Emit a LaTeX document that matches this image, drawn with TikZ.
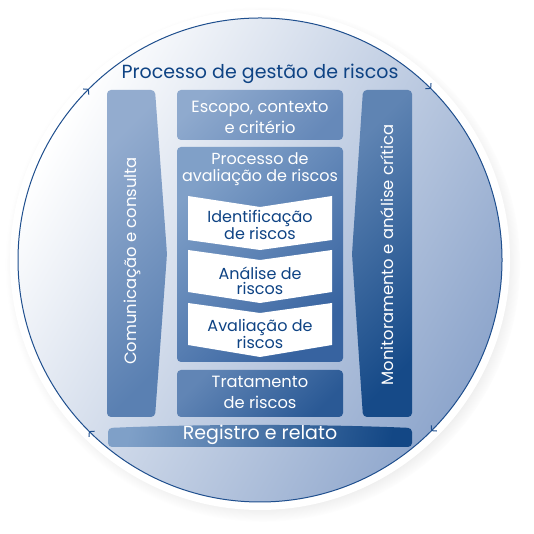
\documentclass[tikz,border=0pt]{standalone}
\usepackage{fontspec}
\setmainfont{Poppins}
\usetikzlibrary{arrows.meta,shapes,positioning,shadows,decorations.markings}

\definecolor{navy}{HTML}{0E4384}
\definecolor{ringline}{HTML}{1F4F8E}
\definecolor{discB}{HTML}{8EA6CC}
\definecolor{commA}{HTML}{93ACCF}
\definecolor{commB}{HTML}{5A80B2}
\definecolor{monA}{HTML}{5F84B3}
\definecolor{monB}{HTML}{164A88}
\definecolor{scopeA}{HTML}{8FAACE}
\definecolor{scopeB}{HTML}{6689B9}
\definecolor{assessA}{HTML}{80A0C8}
\definecolor{assessB}{HTML}{3763A0}
\definecolor{treatA}{HTML}{6185B5}
\definecolor{treatB}{HTML}{2A5995}
\definecolor{recA}{HTML}{7FA0C8}
\definecolor{recB}{HTML}{134785}

\tikzstyle{panel} = [rounded corners=4pt, shading angle=45]
\tikzstyle{boxtext} = [text=white, align=center, font=\fontsize{16.3}{21}\selectfont]
\tikzstyle{steptext} = [text=navy, align=center, font=\fontsize{16}{15.5}\selectfont]
\tikzstyle{sidetext} = [text=white, rotate=90, font=\fontsize{16.4}{18}\selectfont]
\tikzstyle{ring} = [draw=ringline, line width=1pt, postaction={decorate},
    decoration={markings,
      mark=at position 0.125 with {\arrowreversed{Straight Barb[length=3.5pt,width=8pt]}},
      mark=at position 0.375 with {\arrowreversed{Straight Barb[length=3.5pt,width=8pt]}},
      mark=at position 0.625 with {\arrowreversed{Straight Barb[length=3.5pt,width=8pt]}},
      mark=at position 0.875 with {\arrowreversed{Straight Barb[length=3.5pt,width=8pt]}}}]

\begin{document}
\begin{tikzpicture}[x=1pt, y=1pt]
        \useasboundingbox (0,0) rectangle (534,534);

        % disc
        \fill[white, circular drop shadow={shadow xshift=3pt, shadow yshift=-4pt, shadow scale=1.03, opacity=0.35}] (260,274) circle (250);
        \shade[top color=white, bottom color=discB, shading angle=60] (260,274) circle (242);
        \draw[ring] (260,274) circle (242);

        % side columns
        \shade[top color=commA, bottom color=commB, panel]
            (107,444) -- (155,444) -- (167,280) -- (155,117) -- (107,117) -- cycle;
        \shade[top color=monA, bottom color=monB, panel]
            (363,444) -- (412,444) -- (412,117) -- (363,117) -- (352,280) -- cycle;

        % centre column
        \shade[top color=scopeA, bottom color=scopeB, panel] (177,444) rectangle (343,394);
        \shade[top color=assessA, bottom color=assessB, panel] (177,387) rectangle (343,172);
        \shade[top color=treatA, bottom color=treatB, panel] (177,164) rectangle (343,117);
        \shade[top color=recA, bottom color=recB, panel, shading angle=80]
            (108,106) .. controls (200,110) and (320,110) .. (412,106) -- (412,87) -- (108,87) -- cycle;

        % steps
        \fill[white] (188,338) -- (260,327) -- (332,338) -- (332,294) -- (260,284) -- (188,294) -- cycle;
        \fill[white] (188,284) -- (260,274) -- (332,284) -- (332,242) -- (260,231) -- (188,242) -- cycle;
        \fill[white] (188,231) -- (260,221) -- (332,231) -- (332,189) -- (260,177) -- (188,189) -- cycle;

        \node[text=navy, font=\fontsize{19}{22}\selectfont, anchor=base] (title) at (260,455) {Processo de gestão de riscos};
        \node[sidetext] (comm) at (132,273) {Comunicação e consulta};
        \node[sidetext] (mon) at (387,279) {Monitoramento e análise crítica};
        \node[boxtext] (scope) at (260,417) {Escopo, contexto\\e critério};
        \node[boxtext, font=\fontsize{16}{17}\selectfont] (assess) at (260,365) {Processo de\\avaliação de riscos};
        \node[steptext] (p1) at (260,309) {Identificação\\de riscos};
        \node[steptext] (p2) at (260,253) {Análise de\\riscos};
        \node[steptext] (p3) at (260,200) {Avaliação de\\riscos};
        \node[boxtext] (treat) at (260,142) {Tratamento\\de riscos};
        \node[boxtext, font=\fontsize{19}{22}\selectfont, anchor=base] (rec) at (260,94) {Registro e relato};

    \end{tikzpicture}
\end{document}
